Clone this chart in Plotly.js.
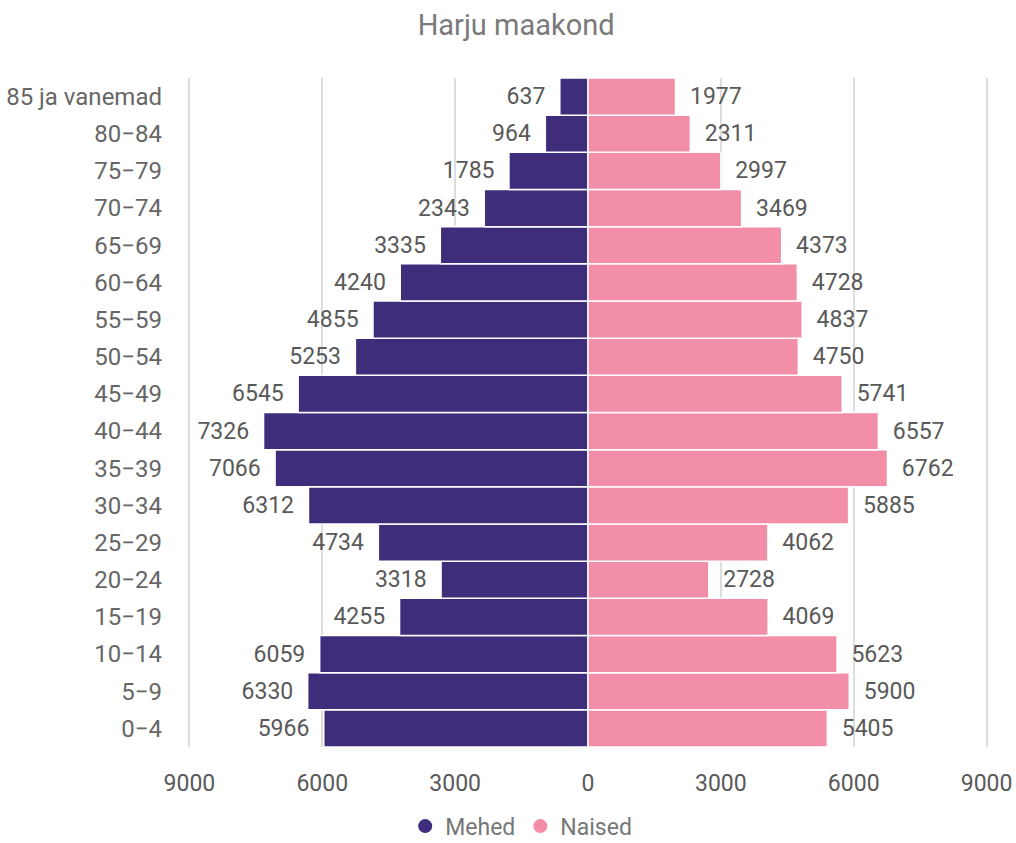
<!DOCTYPE html>
<html><head><meta charset="utf-8">
<script src="https://cdn.plot.ly/plotly-3.0.1.min.js"></script>
<style>html,body{margin:0;padding:0;background:#fff}#chart{width:1016px;height:843px}</style>
</head><body><div id="chart"></div>
<script>
const ageLabels = ["0−4","5−9","10−14","15−19","20−24","25−29","30−34","35−39","40−44","45−49","50−54","55−59","60−64","65−69","70−74","75−79","80−84","85 ja vanemad"];
const mehed = [5966,6330,6059,4255,3318,4734,6312,7066,7326,6545,5253,4855,4240,3335,2343,1785,964,637];
const naised = [5405,5900,5623,4069,2728,4062,5885,6762,6557,5741,4750,4837,4728,4373,3469,2997,2311,1977];
const xTicks = [-9000,-6000,-3000,0,3000,6000,9000];
const xTickText = ["9000","6000","3000","0","3000","6000","9000"];

const purple = "#3f2d7c", pink = "#f28ea8";
const pad = "\u00a0\u00a0";
const txt = {family:"Roboto, sans-serif", size:23, color:"#595959"};
const traces = [
  {type:"bar", orientation:"h", y:ageLabels, x:mehed.map(v=>-v), text:mehed.map(v=>v+pad),
   textposition:"outside", textfont:txt, cliponaxis:false, marker:{color:purple, line:{color:"#fff", width:1.5}},
   showlegend:false, hoverinfo:"skip", name:"Mehed"},
  {type:"bar", orientation:"h", y:ageLabels, x:naised, text:naised.map(v=>pad+v),
   textposition:"outside", textfont:txt, cliponaxis:false, marker:{color:pink, line:{color:"#fff", width:1.5}},
   showlegend:false, hoverinfo:"skip", name:"Naised"},
  {type:"scatter", mode:"markers", x:[null], y:[null], name:"Mehed", marker:{color:purple, symbol:"circle", size:14}},
  {type:"scatter", mode:"markers", x:[null], y:[null], name:"Naised", marker:{color:pink, symbol:"circle", size:14}}
];
const layout = {
  width:1016, height:843,
  margin:{l:185, r:25, t:78, b:96, autoexpand:false},
  paper_bgcolor:"#fff", plot_bgcolor:"#fff",
  font:{family:"Roboto, sans-serif", size:23, color:"#595959"},
  title:{text:"Harju maakond", x:0.508, xanchor:"center", y:0.97, yanchor:"middle", font:{family:"Roboto, sans-serif", size:29, color:"#7a7a7a"}},
  barmode:"overlay", bargap:0,
  xaxis:{range:[-9100,9100], tickvals:xTicks, ticktext:xTickText, showgrid:true, gridcolor:"#dddddd", gridwidth:2,
         zeroline:false, showline:false, ticks:"", ticklabelstandoff:20, tickfont:{size:23, color:"#595959"}, fixedrange:true},
  yaxis:{categoryorder:"array", categoryarray:ageLabels, showgrid:false, zeroline:false, showline:false, ticks:"",
         ticklabelstandoff:22, tickfont:{size:24, color:"#666"}, range:[-0.5,17.5]},
  legend:{orientation:"h", xref:"container", x:0.513, xanchor:"center", yref:"container", y:0.02, yanchor:"middle", font:{size:23, color:"#777"}, itemwidth:30},
  showlegend:true
};
Plotly.newPlot("chart", traces, layout, {displayModeBar:false, staticPlot:true});
</script></body></html>
